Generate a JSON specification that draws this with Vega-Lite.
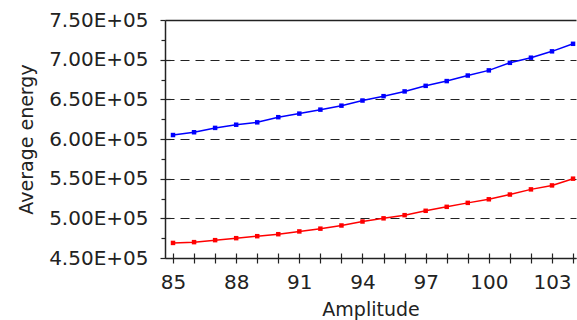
{
  "$schema": "https://vega.github.io/schema/vega-lite/v6.json",
  "width": 411,
  "height": 238,
  "autosize": {"type": "none"},
  "padding": {"left": 165, "top": 20, "right": 1, "bottom": 62},
  "background": "white",
  "config": {
    "view": {"stroke": null},
    "axis": {"labelFont": "DejaVu Sans", "titleFont": "DejaVu Sans", "labelFontSize": 20, "titleFontSize": 19, "titleFontWeight": "normal", "labelColor": "#222", "titleColor": "#222", "domainColor": "#222", "tickColor": "#222", "domainWidth": 1.5, "tickWidth": 1.2}
  },
  "data": {"values": [
    {"amp": 85, "energy": 605000, "series": "A"},
    {"amp": 86, "energy": 608500, "series": "A"},
    {"amp": 87, "energy": 614000, "series": "A"},
    {"amp": 88, "energy": 618000, "series": "A"},
    {"amp": 89, "energy": 621000, "series": "A"},
    {"amp": 90, "energy": 627500, "series": "A"},
    {"amp": 91, "energy": 632000, "series": "A"},
    {"amp": 92, "energy": 637000, "series": "A"},
    {"amp": 93, "energy": 642000, "series": "A"},
    {"amp": 94, "energy": 648500, "series": "A"},
    {"amp": 95, "energy": 654000, "series": "A"},
    {"amp": 96, "energy": 660000, "series": "A"},
    {"amp": 97, "energy": 667000, "series": "A"},
    {"amp": 98, "energy": 673000, "series": "A"},
    {"amp": 99, "energy": 680000, "series": "A"},
    {"amp": 100, "energy": 686500, "series": "A"},
    {"amp": 101, "energy": 696000, "series": "A"},
    {"amp": 102, "energy": 702500, "series": "A"},
    {"amp": 103, "energy": 710500, "series": "A"},
    {"amp": 104, "energy": 720000, "series": "A"},
    {"amp": 85, "energy": 469000, "series": "B"},
    {"amp": 86, "energy": 470000, "series": "B"},
    {"amp": 87, "energy": 472500, "series": "B"},
    {"amp": 88, "energy": 475000, "series": "B"},
    {"amp": 89, "energy": 477500, "series": "B"},
    {"amp": 90, "energy": 480000, "series": "B"},
    {"amp": 91, "energy": 483500, "series": "B"},
    {"amp": 92, "energy": 487000, "series": "B"},
    {"amp": 93, "energy": 491000, "series": "B"},
    {"amp": 94, "energy": 496000, "series": "B"},
    {"amp": 95, "energy": 500000, "series": "B"},
    {"amp": 96, "energy": 504000, "series": "B"},
    {"amp": 97, "energy": 509500, "series": "B"},
    {"amp": 98, "energy": 514500, "series": "B"},
    {"amp": 99, "energy": 519500, "series": "B"},
    {"amp": 100, "energy": 524000, "series": "B"},
    {"amp": 101, "energy": 530000, "series": "B"},
    {"amp": 102, "energy": 536500, "series": "B"},
    {"amp": 103, "energy": 541500, "series": "B"},
    {"amp": 104, "energy": 550000, "series": "B"}
  ]},
  "resolve": {"axis": {"x": "independent", "y": "independent"}},
  "layer": [
    {
      "mark": {"type": "line", "strokeWidth": 1.5, "clip": false},
      "encoding": {
        "x": {"field": "amp", "type": "quantitative",
          "scale": {"domain": [84.62, 104.14], "nice": false, "zero": false},
          "axis": {"orient": "bottom", "title": "Amplitude", "values": [85,86,87,88,89,90,91,92,93,94,95,96,97,98,99,100,101,102,103,104],
            "labelExpr": "(datum.value - 85) % 3 == 0 ? datum.value : ''", "labelFlush": false, "labelOverlap": false,
            "tickSize": 5, "labelPadding": 9, "titlePadding": 8, "grid": false}},
        "y": {"field": "energy", "type": "quantitative",
          "scale": {"domain": [450000, 750000], "nice": false, "zero": false},
          "axis": {"orient": "left", "title": "Average energy", "values": [450000,500000,550000,600000,650000,700000,750000],
            "labelExpr": "format(datum.value/100000, '.2f') + 'E+05'", "tickSize": 5, "labelPadding": 12, "titlePadding": 12,
            "grid": true, "gridColor": "#222", "gridOpacity": 1, "gridWidth": {"condition": {"test": "datum.value == 750000", "value": 1.5}, "value": 1.2},
            "gridDash": {"condition": {"test": "datum.value == 750000", "value": []}, "value": [9, 6]}}},
        "color": {"field": "series", "type": "nominal", "scale": {"domain": ["A", "B"], "range": ["#0000ff", "#ff0000"]}, "legend": null}
      }
    },
    {
      "mark": {"type": "square", "size": 20, "opacity": 1, "filled": true, "clip": false},
      "encoding": {
        "x": {"field": "amp", "type": "quantitative",
          "scale": {"domain": [84.62, 104.14], "nice": false, "zero": false},
          "axis": {"orient": "bottom", "title": null, "labels": false, "domain": false, "grid": false,
            "values": [85,86,87,88,89,90,91,92,93,94,95,96,97,98,99,100,101,102,103,104], "tickSize": -5}},
        "y": {"field": "energy", "type": "quantitative",
          "scale": {"domain": [450000, 750000], "nice": false, "zero": false},
          "axis": {"orient": "left", "title": null, "labels": false, "domain": false, "grid": false,
            "values": [475000,500000,525000,550000,575000,600000,625000,650000,675000,700000,725000],
            "tickSize": {"condition": {"test": "datum.value % 50000 == 0", "value": -5}, "value": 4}}},
        "color": {"field": "series", "type": "nominal", "scale": {"domain": ["A", "B"], "range": ["#0000ff", "#ff0000"]}, "legend": null}
      }
    }
  ]
}
